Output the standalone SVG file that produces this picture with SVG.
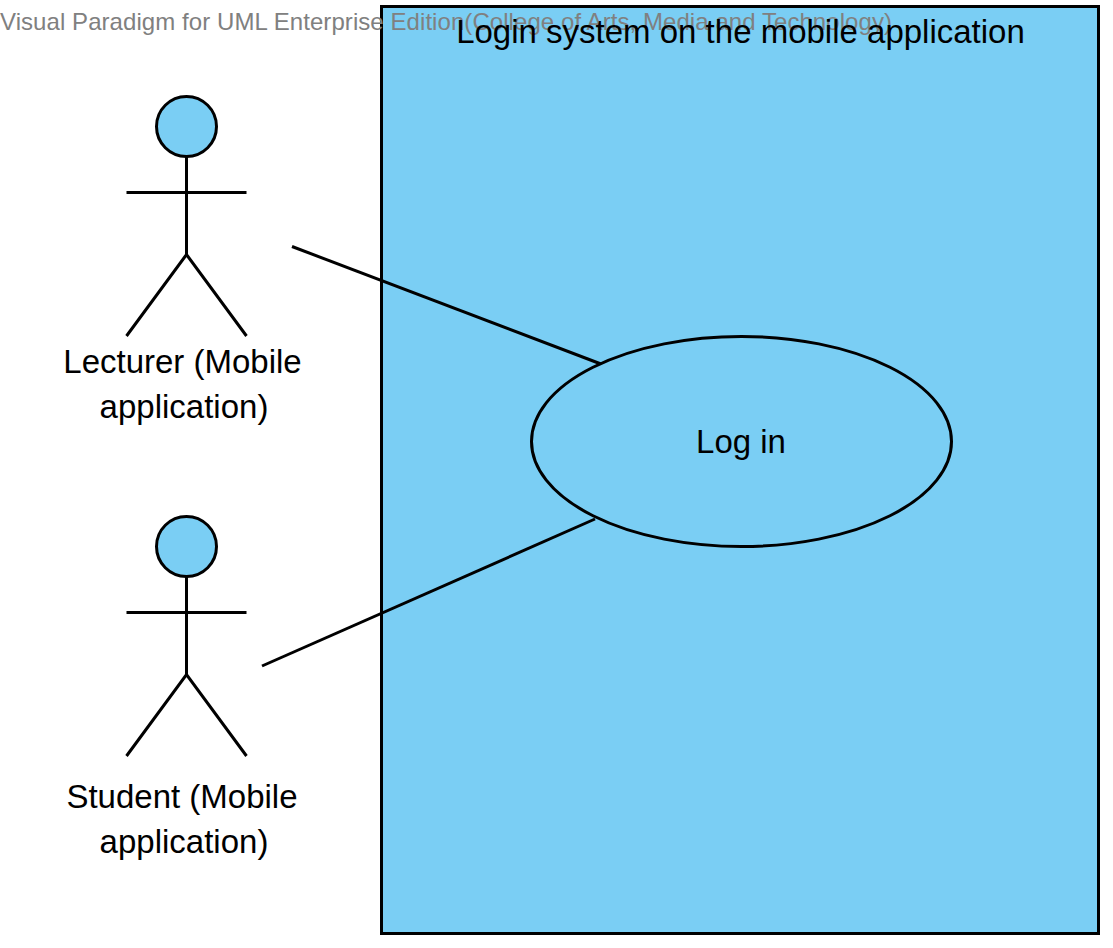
<svg xmlns="http://www.w3.org/2000/svg" width="1113" height="948" viewBox="0 0 1113 948">
<style>
text{font-family:"Liberation Sans",Arial,sans-serif;font-size:33px;fill:#000}
.s{stroke:#000;stroke-width:3;fill:none}
.f{stroke:#000;stroke-width:3;fill:#7ACEF4}
.m{text-anchor:middle}
.w{font-size:24px;fill:#808080}
</style>
<rect width="1113" height="948" fill="#fff"/>
<g id="system">
<rect class="f" x="381.5" y="6.5" width="717" height="927"/>
</g>
<text class="w" x="0" y="30" textLength="892">Visual Paradigm for UML Enterprise Edition(College of Arts, Media and Technology)</text>
<text class="m" x="740.500" y="42.500">Login system on the mobile application</text>
<g id="connectors">
<line class="s" x1="292" y1="246.500" x2="601" y2="364"/>
<line class="s" x1="262" y1="666" x2="595" y2="519"/>
</g>
<g id="lecturer">
<circle class="f" cx="186.500" cy="126.500" r="30"/>
<path class="s" d="M186.500 156.500V254.500M126.500 192.500H246.500M126.500 336L186.500 254.500L246.500 336"/>
<text class="m" x="182.500" y="372.500">Lecturer (Mobile</text>
<text class="m" x="184" y="417.500">application)</text>
</g>
<g id="student">
<circle class="f" cx="186.500" cy="546.500" r="30"/>
<path class="s" d="M186.500 576.500V674.500M126.500 612.500H246.500M126.500 756L186.500 674.500L246.500 756"/>
<text class="m" x="182" y="807.500">Student (Mobile</text>
<text class="m" x="184" y="852.500">application)</text>
</g>
<g id="login">
<ellipse class="f" cx="741.500" cy="441.500" rx="210" ry="105"/>
<text class="m" x="741" y="452.500">Log in</text>
</g>
</svg>
